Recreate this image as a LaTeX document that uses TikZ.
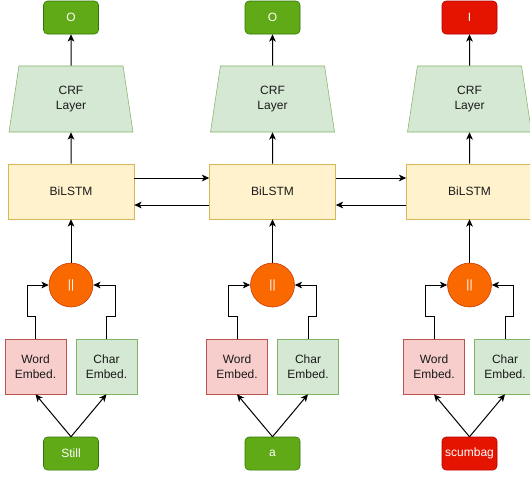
\documentclass[tikz,border=0pt]{standalone}
\usepackage{fontspec}
\setmainfont{Liberation Sans}
\usetikzlibrary{arrows.meta,shapes.geometric}
\definecolor{tagG}{HTML}{60A917}
\definecolor{tagGd}{HTML}{2D7600}
\definecolor{tagR}{HTML}{E51400}
\definecolor{tagRd}{HTML}{B20000}
\definecolor{lstmF}{HTML}{FFF2CC}
\definecolor{lstmD}{HTML}{D6B656}
\definecolor{grnF}{HTML}{D5E8D4}
\definecolor{grnD}{HTML}{82B366}
\definecolor{redF}{HTML}{F8CECC}
\definecolor{redD}{HTML}{B85450}
\definecolor{catF}{HTML}{FA6800}
\definecolor{catD}{HTML}{C73500}
\definecolor{txt}{HTML}{1A1A1A}

\begin{document}
\begin{tikzpicture}[x=0.75pt,y=-0.75pt,
	every node/.style={font=\fontsize{9}{11.5}\selectfont,align=center,inner sep=0pt,text=txt},
	tag/.style={draw=#1d,fill=#1,rounded corners=3pt,minimum width=41.25pt,minimum height=24.75pt,text=white},
	lstm/.style={draw=lstmD,fill=lstmF,minimum width=94.5pt,minimum height=41.25pt},
	crf/.style={draw=grnD,fill=grnF,trapezium,trapezium angle=69.25,trapezium stretches body,minimum width=93pt,minimum height=49.5pt},
	emb/.style={draw=#1D,fill=#1F,minimum width=45.75pt,minimum height=41.25pt},
	cat/.style={draw=catD,fill=catF,circle,minimum size=33pt,text=white},
	arr/.style={-{Stealth[length=5.5pt,width=5pt,inset=1.5pt]},line width=0.75pt}]
	\useasboundingbox (0,0) rectangle (530,476);
	\foreach \i/\x/\w/\t/\c/\k in {1/71/Still/O/tagG/tagG,2/272.5/a/O/tagG/tagG,3/469.5/scumbag/I/tagR/tagR}{
		\node[tag=\c] at (\x,17.5) (out\i) {\t};
		\node[crf] at (\x,99) (crf\i) {CRF\\Layer};
		\node[lstm] at (\x,191.5) (lstm\i) {BiLSTM};
		\node[cat] at (\x,285) (cat\i) {||};
		\node[emb=red] at (\x-35.5,366.5) (word\i) {Word\\Embed.};
		\node[emb=grn] at (\x+35.5,366.5) (char\i) {Char\\Embed.};
		\node[tag=\k] at (\x,453.5) (tok\i) {\w};
		\draw[arr] (tok\i.north) -- (word\i.south);
		\draw[arr] (tok\i.north) -- (char\i.south);
		\draw[arr] (word\i.north) -- ++(0,-22) -- ++(-8.5,0) |- (cat\i.west);
		\draw[arr] (char\i.north) -- ++(0,-22) -- ++(8.5,0) |- (cat\i.east);
		\draw[arr] (cat\i) -- (lstm\i);
		\draw[arr] (lstm\i) -- (crf\i);
		\draw[arr] (crf\i) -- (out\i);
	}
	\draw[arr] ([yshift=10.125pt]lstm1.east) -- ([yshift=10.125pt]lstm2.west);
	\draw[arr] ([yshift=-10.125pt]lstm2.west) -- ([yshift=-10.125pt]lstm1.east);
	\draw[arr] ([yshift=10.125pt]lstm2.east) -- ([yshift=10.125pt]lstm3.west);
	\draw[arr] ([yshift=-10.125pt]lstm3.west) -- ([yshift=-10.125pt]lstm2.east);
\end{tikzpicture}
\end{document}
